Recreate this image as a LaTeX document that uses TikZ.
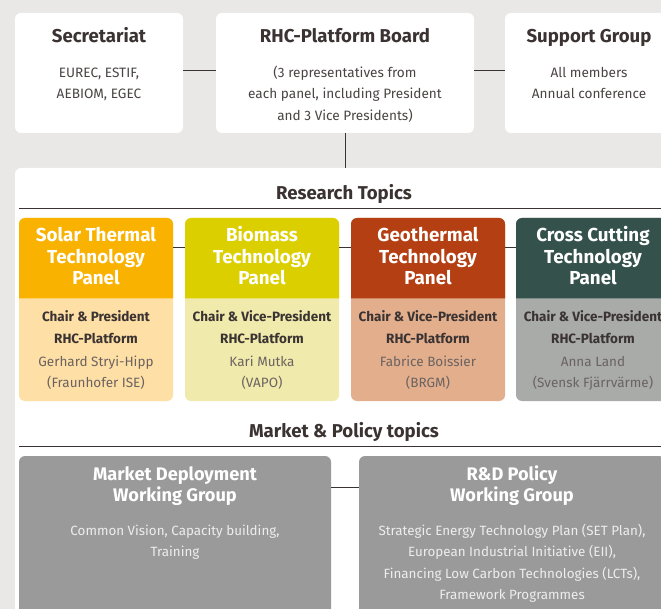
\documentclass[tikz,border=0pt]{standalone}
\usepackage{fontspec}
\setmainfont{Fira Sans}
\definecolor{bgc}{HTML}{E9E8E6}
\definecolor{titlec}{HTML}{3A3332}
\definecolor{bodyc}{HTML}{4A4443}
\definecolor{namec}{HTML}{6B6361}
\definecolor{linec}{HTML}{3A3332}
\definecolor{solarH}{HTML}{F9B200}
\definecolor{solarL}{HTML}{FEDFA5}
\definecolor{bioH}{HTML}{DCCF00}
\definecolor{bioL}{HTML}{F0EAAC}
\definecolor{geoH}{HTML}{B43F12}
\definecolor{geoL}{HTML}{E2AE8C}
\definecolor{crossH}{HTML}{34524B}
\definecolor{crossL}{HTML}{A8ABA8}
\definecolor{wgc}{HTML}{9A9A9A}
\definecolor{wgtext}{HTML}{EDEDED}
% name, x, first baseline y, line step, style, lines
\newcommand\txtlines[6]{%
  \foreach \tl [count=\ti from 0] in {#6}{%
    \node[#5, anchor=base] (#1\ti) at (#2,#3+\ti*#4) {\tl};
  }%
}
\begin{document}
\begin{tikzpicture}[x=1pt,y=-1pt,
  box/.style={fill=white, rounded corners=6pt, inner sep=0pt, draw=none},
  panelbox/.style={rounded corners=6pt, inner sep=0pt, draw=none, minimum width=154pt, minimum height=183pt},
  wgbox/.style={fill=wgc, rounded corners=6pt, inner sep=0pt, draw=none, minimum height=194pt},
  ttl/.style={font=\bfseries\fontsize{18.6}{21}\selectfont, text=titlec, inner sep=0pt},
  bdy/.style={font=\fontsize{13.6}{22}\selectfont, text=bodyc, inner sep=0pt},
  phead/.style={font=\bfseries\fontsize{18.8}{21}\selectfont, text=white, inner sep=0pt},
  pbold/.style={font=\bfseries\fontsize{13.5}{22}\selectfont, text=titlec, inner sep=0pt},
  pbody/.style={font=\fontsize{13.5}{22}\selectfont, text=namec, inner sep=0pt},
  wghead/.style={font=\bfseries\fontsize{18.2}{23}\selectfont, text=white, inner sep=0pt},
  wgbody/.style={font=\fontsize{13.4}{21.5}\selectfont, text=wgtext, inner sep=0pt},
  conn/.style={draw=linec, line width=0.9pt}
]
\useasboundingbox (0,0) rectangle (661,609);
\fill[bgc] (0,0) rectangle (661,609);

% top boxes
\node[box, minimum width=168pt, minimum height=120pt] (sec) at (99,73) {};
\node[box, minimum width=258pt, minimum height=120pt] (board) at (345,73) {};
\node[box, minimum width=168pt, minimum height=120pt] (sup) at (589,73) {};
\node[ttl, anchor=base] (secT) at (99,42.7) {Secretariat};
\node[ttl, anchor=base] (boardT) at (345,42.7) {RHC-Platform Board};
\node[ttl, anchor=base] (supT) at (589,42.7) {Support Group};
\txtlines{secB}{99}{77.5}{21.5}{bdy}{{EUREC, ESTIF,},{AEBIOM, EGEC}}
\txtlines{boardB}{345}{77.5}{21.5}{bdy}{{(3 representatives from},{each panel, including President},{and 3 Vice Presidents)}}
\txtlines{supB}{589}{77.5}{21.5}{bdy}{{All members},{Annual conference}}
\draw[conn] ([yshift=2.3pt]sec.east) -- ([yshift=2.3pt]board.west);
\draw[conn] ([yshift=2.3pt]board.east) -- ([yshift=2.3pt]sup.west);

% big white panel
\node[box, minimum width=685pt, minimum height=532pt] (panel) at (357.5,434) {};
\draw[conn] (board.south) -- (board.south |- panel.north);

\node[ttl, anchor=base] (rtT) at (344,199.5) {Research Topics};
\coordinate (rl1) at (19,208);
\coordinate (rl2) at (661,208);
\draw[conn] (rl1) -- (rl2);

% panels
\foreach \nm/\cx/\hc/\lc in {solar/96/solarH/solarL, bio/262/bioH/bioL, geo/428/geoH/geoL, cross/593/crossH/crossL}{
  \node[panelbox, fill=\lc] (\nm) at (\cx,309.5) {};
  \fill[\hc] (\cx-77,298.5) [rounded corners=6pt] -- (\cx-77,218) -- (\cx+77,218) [sharp corners] -- (\cx+77,298.5) -- cycle;
}
\txtlines{solarT}{96}{241.7}{21.6}{phead}{{Solar Thermal},{Technology},{Panel}}
\txtlines{bioT}{262}{241.7}{21.6}{phead}{{Biomass},{Technology},{Panel}}
\txtlines{geoT}{428}{241.7}{21.6}{phead}{{Geothermal},{Technology},{Panel}}
\txtlines{crossT}{593}{241.7}{21.6}{phead}{{Cross Cutting},{Technology},{Panel}}

\txtlines{solarC}{96}{321.7}{22.2}{pbold}{{Chair \& President},{RHC-Platform}}
\txtlines{solarN}{96}{366.1}{21.6}{pbody}{{Gerhard Stryi-Hipp},{(Fraunhofer ISE)}}
\txtlines{bioC}{262}{321.7}{22.2}{pbold}{{Chair \& Vice-President},{RHC-Platform}}
\txtlines{bioN}{262}{366.1}{21.6}{pbody}{{Kari Mutka},{(VAPO)}}
\txtlines{geoC}{428}{321.7}{22.2}{pbold}{{Chair \& Vice-President},{RHC-Platform}}
\txtlines{geoN}{428}{366.1}{21.6}{pbody}{{Fabrice Boissier},{(BRGM)}}
\txtlines{crossC}{593}{321.7}{22.2}{pbold}{{Chair \& Vice-President},{RHC-Platform}}
\txtlines{crossN}{593}{366.1}{21.6}{pbody}{{Anna Land},{(Svensk Fjärrvärme)}}

\draw[conn] ([yshift=62.2pt]solar.east) -- ([yshift=62.2pt]bio.west);
\draw[conn] ([yshift=62.2pt]bio.east) -- ([yshift=62.2pt]geo.west);
\draw[conn] ([yshift=62.2pt]geo.east) -- ([yshift=62.2pt]cross.west);

% market & policy
\node[ttl, anchor=base] (mpT) at (344,437.5) {Market \& Policy topics};
\coordinate (ml1) at (19,446);
\coordinate (ml2) at (661,446);
\draw[conn] (ml1) -- (ml2);

\node[wgbox, minimum width=312pt] (mkt) at (175,553) {};
\node[wgbox, minimum width=306pt] (rd) at (512,553) {};
\draw[conn] ([yshift=66pt]mkt.east) -- ([yshift=66pt]rd.west);

\txtlines{mktT}{175}{480}{21.7}{wghead}{{Market Deployment},{Working Group}}
\txtlines{rdT}{512}{480}{21.7}{wghead}{{R\&D Policy},{Working Group}}
\txtlines{mktB}{175}{535}{21.6}{wgbody}{{Common Vision, Capacity building,},{Training}}
\txtlines{rdB}{512}{535}{21.5}{wgbody}{{Strategic Energy Technology Plan (SET Plan),},{European Industrial Initiative (EII),},{Financing Low Carbon Technologies (LCTs),},{Framework Programmes}}
\end{tikzpicture}
\end{document}
